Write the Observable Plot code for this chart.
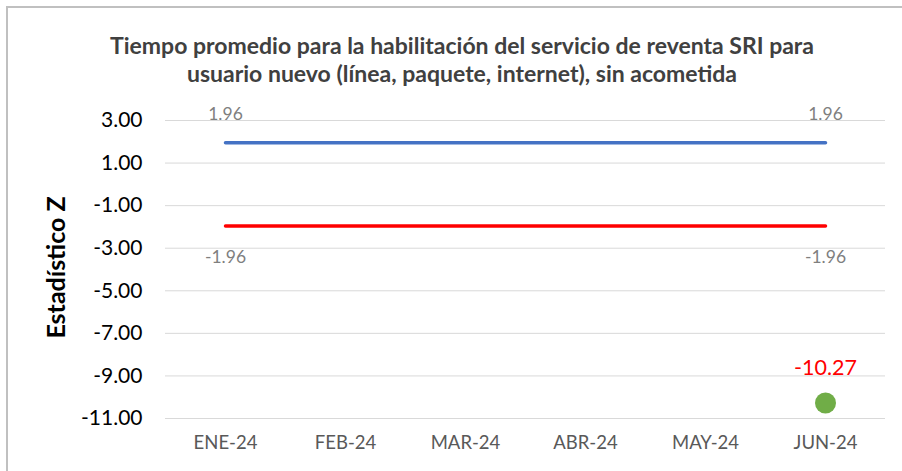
<!DOCTYPE html>
<html><head><meta charset="utf-8">
<script src="https://cdn.jsdelivr.net/npm/d3@7"></script>
<script src="https://cdn.jsdelivr.net/npm/@observablehq/plot@0.6"></script>
<style>
html,body{margin:0;padding:0;background:#fff;width:902px;height:471px;overflow:hidden;font-family:Lato,"Open Sans",sans-serif;}
#frame{position:absolute;left:6px;top:6px;width:920px;height:490px;border:2px solid #c0c0c0;box-sizing:border-box;}
#title{position:absolute;left:0;top:31px;width:924px;text-align:center;font-weight:bold;font-size:23px;line-height:28px;color:#404040;white-space:nowrap;}
#chart{position:absolute;left:0;top:90px;}
</style></head>
<body>
<div id="frame"></div>
<div id="title">Tiempo promedio para la habilitación del servicio de reventa SRI para<br>usuario nuevo (línea, paquete, internet), sin acometida</div>
<div id="chart"></div>
<script>
const months = ["ENE-24","FEB-24","MAR-24","ABR-24","MAY-24","JUN-24"];
const upperLimit = [1.96,1.96,1.96,1.96,1.96,1.96];
const lowerLimit = [-1.96,-1.96,-1.96,-1.96,-1.96,-1.96];
const zValues = [null,null,null,null,null,-10.27];
const yTicks = [3,1,-1,-3,-5,-7,-9,-11];
const yLabel = "Estadístico Z";

const fmt = d => d.toFixed(2);
const upper = months.map((m,i)=>({m, v: upperLimit[i]}));
const lower = months.map((m,i)=>({m, v: lowerLimit[i]}));
const pts = months.map((m,i)=>({m, v: zValues[i]})).filter(d=>d.v!=null);
const ends = [0, months.length-1];

const plot = Plot.plot({
  width: 902, height: 381,
  marginLeft: 165, marginRight: 17, marginTop: 30, marginBottom: 53,
  style: {fontFamily: "Lato, 'Open Sans', sans-serif", background: "transparent"},
  x: {type: "point", domain: months, padding: 0.5, label: null},
  y: {domain: [-11, 3], label: null},
  marks: [
    Plot.ruleY(yTicks, {stroke: "#d9d9d9", strokeWidth: 1}),
    Plot.axisY({ticks: yTicks, tickFormat: fmt, tickSize: 0, tickPadding: 23, fontSize: 21, fill: "#000", label: null}),
    Plot.axisX({tickSize: 0, tickPadding: 17, fontSize: 18.5, fill: "#595959", label: null}),
    Plot.line(upper, {x: "m", y: "v", stroke: "#4472C4", strokeWidth: 3.5, strokeLinecap: "round"}),
    Plot.line(lower, {x: "m", y: "v", stroke: "#FF0000", strokeWidth: 3.5, strokeLinecap: "round"}),
    Plot.text(ends.map(i=>upper[i]), {x: "m", y: "v", text: d=>d.v.toFixed(2), dy: -28, fill: "#7f7f7f", fontSize: 17.5}),
    Plot.text(ends.map(i=>lower[i]), {x: "m", y: "v", text: d=>d.v.toFixed(2), dy: 31, fill: "#7f7f7f", fontSize: 17.5}),
    Plot.dot(pts, {x: "m", y: "v", r: 10.5, fill: "#70AD47", stroke: "none"}),
    Plot.text(pts, {x: "m", y: "v", text: d=>d.v.toFixed(2), dy: -35, fill: "#FF0000", fontSize: 21.5}),
    Plot.text([yLabel], {frameAnchor: "left", text: d=>d, rotate: -90, textAnchor: "middle", dx: -109, dy: -2, fontSize: 25, fontWeight: "bold", fill: "#000"})
  ]
});
document.getElementById("chart").appendChild(plot);
</script>
</body></html>
